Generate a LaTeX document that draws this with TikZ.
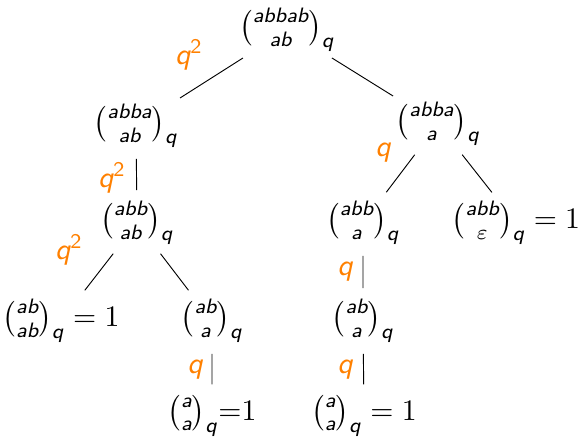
\documentclass[tikz,border=0pt]{standalone}
\usepackage{amsmath}
\newcommand{\sv}[1]{\textsf{\itshape #1}}
\begin{document}
\begin{tikzpicture}[x=0.43pt,y=-0.43pt,
  every node/.style={scale=1.28},
  tn/.style={inner sep=0pt},
  lbl/.style={text=orange, inner sep=0pt},
  edge/.style={draw, line width=0.4pt, shorten <=4.5pt, shorten >=4.5pt}]
\useasboundingbox (0,0) rectangle (581,444);
\node[tn] (r)   at (287,30)  {$\tbinom{\sv{abbab}}{\sv{ab}}_{\sv{q}}$};
\node[tn] (l1)  at (136,126) {$\tbinom{\sv{abba}}{\sv{ab}}_{\sv{q}}$};
\node[tn] (r1)  at (438,124) {$\tbinom{\sv{abba}}{\sv{a}}_{\sv{q}}$};
\node[tn] (l2)  at (137,223) {$\tbinom{\sv{abb}}{\sv{ab}}_{\sv{q}}$};
\node[tn] (l3a) at (61,321)  {$\tbinom{\sv{ab}}{\sv{ab}}_{\sv{q}} = 1$};
\node[tn] (l3b) at (212,321) {$\tbinom{\sv{ab}}{\sv{a}}_{\sv{q}}$};
\node[tn] (l4)  at (212,416) {$\tbinom{\sv{a}}{\sv{a}}_{\sv{q}}{=}1$};
\node[tn] (r2a) at (363,223) {$\tbinom{\sv{abb}}{\sv{a}}_{\sv{q}}$};
\node[tn] (r2b) at (516,223) {$\tbinom{\sv{abb}}{\varepsilon}_{\sv{q}} = 1$};
\node[tn] (r3)  at (363,321) {$\tbinom{\sv{ab}}{\sv{a}}_{\sv{q}}$};
\node[tn] (r4)  at (364,416) {$\tbinom{\sv{a}}{\sv{a}}_{\sv{q}} = 1$};
\draw[edge] (r) -- (l1);
\draw[edge] (r) -- (r1);
\draw[edge] (l1) -- (l2);
\draw[edge] (l2) -- (l3a);
\draw[edge] (l2) -- (l3b);
\draw[edge] (l3b) -- (l4);
\draw[edge] (r1) -- (r2a);
\draw[edge] (r1) -- (r2b);
\draw[edge] (r2a) -- (r3);
\draw[edge] (r3) -- (r4);
\node[lbl] (q1) at (189,55)  {$\sv{q}^{\textsf{2}}$};
\node[lbl] (q2) at (112,178) {$\sv{q}^{\textsf{2}}$};
\node[lbl] (q3) at (69,250)  {$\sv{q}^{\textsf{2}}$};
\node[lbl] (q4) at (383,153) {$\sv{q}$};
\node[lbl] (q5) at (195,370) {$\sv{q}$};
\node[lbl] (q6) at (345,272) {$\sv{q}$};
\node[lbl] (q7) at (345,370) {$\sv{q}$};
\end{tikzpicture}
\end{document}
